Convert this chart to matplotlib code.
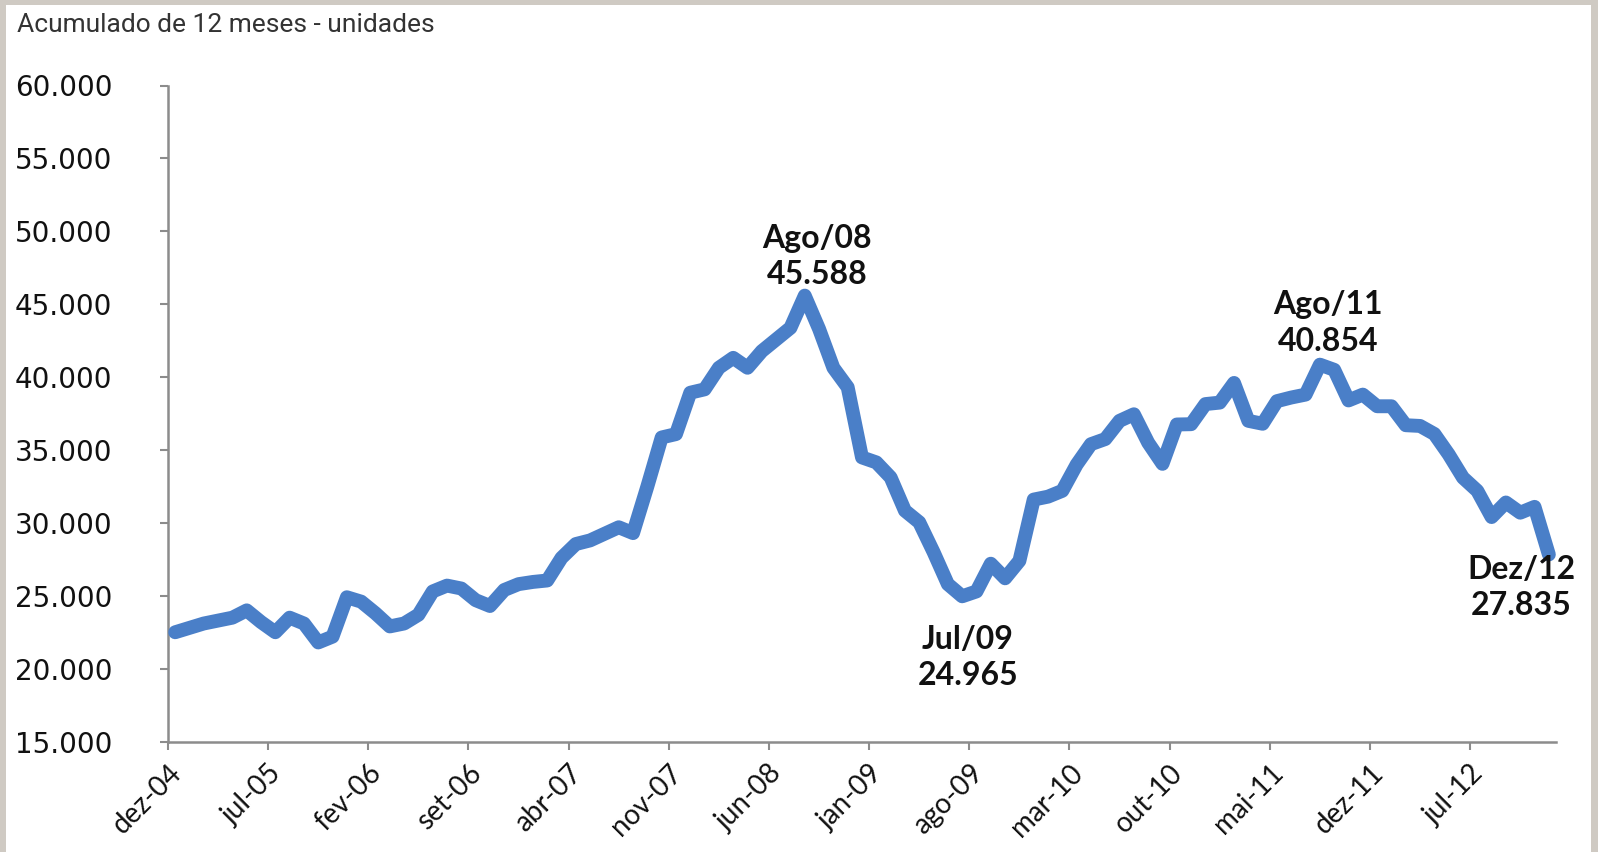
import matplotlib
matplotlib.use("Agg")
import matplotlib.pyplot as plt
from matplotlib.patches import Rectangle
from matplotlib.ticker import FuncFormatter
from matplotlib.transforms import ScaledTranslation

# ---- data (12-month accumulated units, monthly dez-04 .. dez-12) ----
values = [
    22500, 22800, 23100, 23300, 23500, 24000, 23200, 22500, 23500, 23100,   # dez-04 .. set-05
    21800, 22200, 24900, 24600, 23800, 22900, 23100, 23700, 25300, 25700,   # out-05 .. jul-06
    25500, 24700, 24300, 25400, 25800, 25950, 26050, 27600, 28550, 28800,   # ago-06 .. mai-07
    29250, 29700, 29300, 32500, 35860, 36090, 38930, 39160, 40640, 41320,   # jun-07 .. mar-08
    40640, 41780, 42580, 43380, 45588, 43300, 40640, 39300, 34490, 34150,   # abr-08 .. jan-09
    33120, 30840, 30040, 28000, 25800, 24965, 25300, 27200, 26200, 27400,   # fev-09 .. nov-09
    31600, 31800, 32200, 34000, 35400, 35750, 37000, 37450, 35500, 34050,   # dez-09 .. set-10
    36750, 36770, 38150, 38250, 39600, 37000, 36800, 38350, 38600, 38800,   # out-10 .. jul-11
    40854, 40500, 38400, 38800, 38000, 38000, 36700, 36650, 36100, 34700,   # ago-11 .. mai-12
    33100, 32200, 30400, 31400, 30700, 31100, 27835,                        # jun-12 .. dez-12
]
tick_labels = ["dez-04", "jul-05", "fev-06", "set-06", "abr-07", "nov-07", "jun-08",
               "jan-09", "ago-09", "mar-10", "out-10", "mai-11", "dez-11", "jul-12"]
y_ticks = [15000, 20000, 25000, 30000, 35000, 40000, 45000, 50000, 55000, 60000]
highlights = [  # (month index, label)
    (44, "Ago/08"),
    (80, "Ago/11"),
    (55, "Jul/09"),
    (96, "Dez/12"),
]
title = "Acumulado de 12 meses - unidades"

# ---- figure ----
W, H = 1598, 852
fig = plt.figure(figsize=(W / 100, H / 100), dpi=100)
fig.patch.set_facecolor("#cfcac3")
fig.patches.append(Rectangle((6 / W, 0), (1591 - 6) / W, 1 - 5 / H,
                             transform=fig.transFigure, facecolor="white",
                             edgecolor="none", zorder=-10))

ax = fig.add_axes([168 / W, 1 - 741.6 / H, (1556 - 168) / W, (741.6 - 85.5) / H])
ax.set_facecolor("none")
ax.set_zorder(5)

# categories are centred between tick marks (Excel "between tick marks")
x = [i + 0.5 for i in range(len(values))]
ax.plot(x, values, color="#4a7fc8", lw=10, solid_joinstyle="round",
        solid_capstyle="round", zorder=3)

ax.set_xlim(0, 97)
ax.set_ylim(15000, 60000)
ax.set_yticks(y_ticks)
ax.yaxis.set_major_formatter(FuncFormatter(lambda v, p: f"{int(v):,}".replace(",", ".")))
ax.set_xticks(list(range(0, 92, 7)))
ax.set_xticklabels(tick_labels, rotation=45, ha="right", va="top",
                   rotation_mode="anchor", fontfamily="Lato", fontsize=20,
                   color="#111111")
shift = ScaledTranslation(17 / 100, 0, fig.dpi_scale_trans)
for lab in ax.get_xticklabels():
    lab.set_transform(lab.get_transform() + shift)

for s in ["top", "right"]:
    ax.spines[s].set_visible(False)
for s in ["left", "bottom"]:
    ax.spines[s].set_color("#8c8c8c")
    ax.spines[s].set_linewidth(1.8)

ax.tick_params(axis="y", direction="out", length=6, width=1.5, color="#8c8c8c",
               pad=34, labelsize=20, labelcolor="#111111")
ax.tick_params(axis="x", direction="out", length=6, width=1.5, color="#8c8c8c",
               pad=7)
for lab in ax.get_yticklabels():
    lab.set_fontfamily("DejaVu Sans")

# annotations
offsets = {44: (9, 28), 80: (6, 30), 55: (4, -44), 96: (-20, -24)}
for idx, lab in highlights:
    v = values[idx]
    txt = f"{lab}\n{v:,}".replace(",", ".")
    ax.annotate(txt, xy=(idx + 0.5, v), xytext=offsets[idx], textcoords="offset points",
                ha="center", va="center", fontfamily="Lato", fontweight="bold",
                fontsize=23, color="#111111", linespacing=1.3, zorder=4)

fig.text(17 / W, 1 - 32 / H, title, fontfamily="Roboto", fontweight="normal",
         fontsize=19, color="#333333", va="baseline", ha="left")

fig.savefig("out.png", dpi=100, facecolor=fig.get_facecolor())
